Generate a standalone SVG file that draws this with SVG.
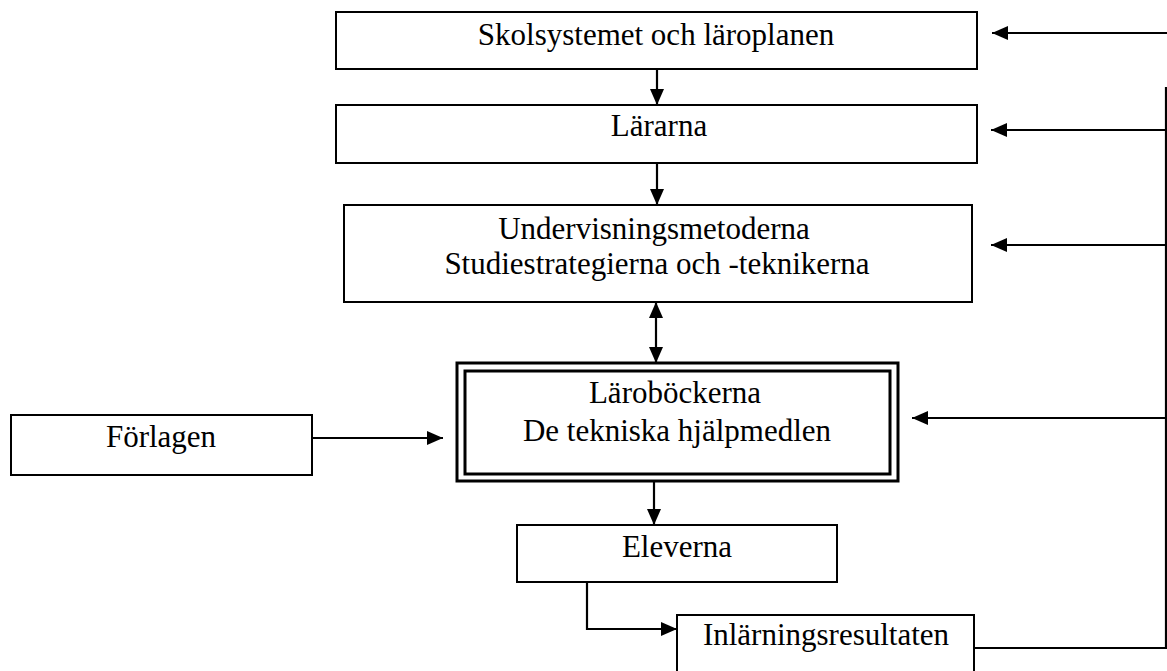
<svg xmlns="http://www.w3.org/2000/svg" width="1167" height="671" viewBox="0 0 1167 671">
<style>
.box{fill:#fff;stroke:#000;stroke-width:2}
.dbl{fill:none;stroke:#000;stroke-width:3}
.lbl{font-family:"Liberation Serif","Times New Roman",serif;font-size:31px;fill:#000;text-anchor:middle}
.con{fill:none;stroke:#000;stroke-width:2.2}
</style>
<defs>
<marker id="ah" markerUnits="userSpaceOnUse" markerWidth="16" markerHeight="14" refX="16" refY="7" orient="auto-start-reverse">
<path d="M0,0 L16,7 L0,14 z" fill="#000"/>
</marker>
</defs>
<rect width="1167" height="671" fill="#fff"/>
<g id="connectors">
<path class="con" d="M657,70 V105" marker-end="url(#ah)"/>
<path class="con" d="M657,163 V205" marker-end="url(#ah)"/>
<path class="con" d="M656,302 V363" marker-start="url(#ah)" marker-end="url(#ah)"/>
<path class="con" d="M654,481 V525" marker-end="url(#ah)"/>
<path class="con" d="M587,582 V629 H677" marker-end="url(#ah)"/>
<path class="con" d="M312,438 H443" marker-end="url(#ah)"/>
<path class="con" d="M974,648 H1166 V87"/>
<path class="con" d="M1167,33 H992" marker-end="url(#ah)"/>
<path class="con" d="M1166,130 H991" marker-end="url(#ah)"/>
<path class="con" d="M1166,245 H991" marker-end="url(#ah)"/>
<path class="con" d="M1166,418 H912" marker-end="url(#ah)"/>
</g>
<g id="skolsystemet">
<rect class="box" x="336" y="12" width="641" height="57"/>
<text class="lbl" x="656" y="45">Skolsystemet och läroplanen</text>
</g>
<g id="lararna">
<rect class="box" x="336" y="105" width="641" height="58"/>
<text class="lbl" x="659" y="136">Lärarna</text>
</g>
<g id="undervisning">
<rect class="box" x="344" y="205" width="628" height="97"/>
<text class="lbl" x="654" y="239">Undervisningsmetoderna</text>
<text class="lbl" x="657" y="274">Studiestrategierna och -teknikerna</text>
</g>
<g id="laroböckerna">
<rect class="dbl" x="457" y="363" width="441" height="118"/>
<rect class="dbl" x="465" y="371" width="425" height="103"/>
<text class="lbl" x="675" y="403">Läroböckerna</text>
<text class="lbl" x="677" y="441">De tekniska hjälpmedlen</text>
</g>
<g id="forlagen">
<rect class="box" x="11" y="415" width="301" height="60"/>
<text class="lbl" x="161" y="447">Förlagen</text>
</g>
<g id="eleverna">
<rect class="box" x="517" y="525" width="320" height="57"/>
<text class="lbl" x="677" y="557">Eleverna</text>
</g>
<g id="inlarningsresultaten">
<rect class="box" x="677" y="615" width="297" height="70"/>
<text class="lbl" x="826" y="645">Inlärningsresultaten</text>
</g>
</svg>
